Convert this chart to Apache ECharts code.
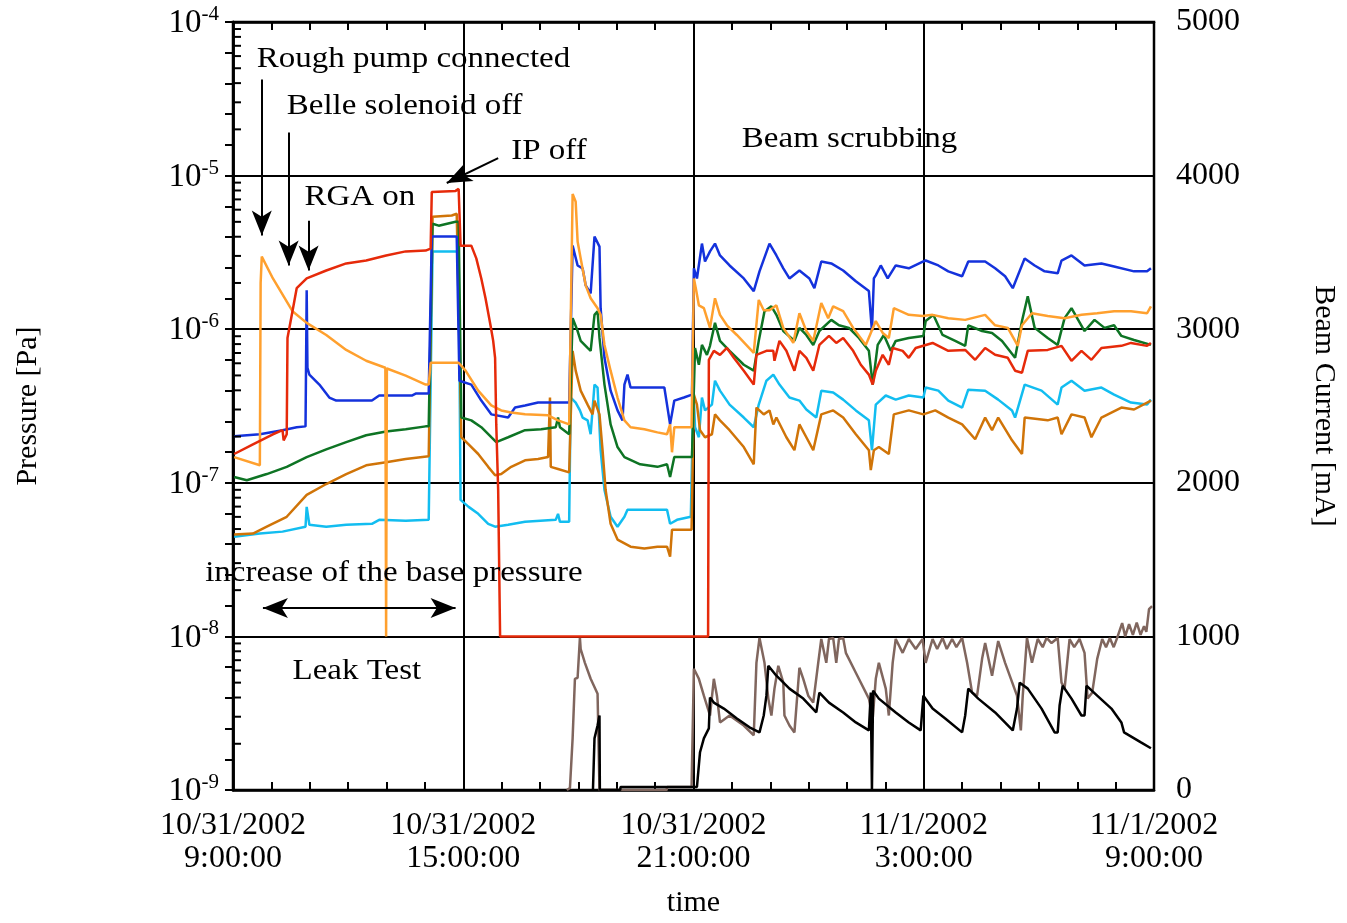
<!DOCTYPE html>
<html><head><meta charset="utf-8">
<script src="https://cdn.jsdelivr.net/npm/echarts/dist/echarts.min.js"></script>
<style>html,body{margin:0;padding:0;background:#fff}#c{width:1347px;height:923px}</style>
</head><body><div id="c"></div>
<script>
const FONT = '"Liberation Serif", "Times New Roman", serif';
const xTickLabels = ['10/31/2002\n9:00:00','10/31/2002\n15:00:00','10/31/2002\n21:00:00','11/1/2002\n3:00:00','11/1/2002\n9:00:00'];
const rightTickLabels = ['0','1000','2000','3000','4000','5000'];
const logMantissas = [2,3,4,5,6,7,8,9];
const logDecades = [-9,-8,-7,-6,-5];

// time in hours after 10/31/2002 9:00:00, pressure in Pa
const blue = [[0.03,2.01e-7],[0.70,2.07e-7],[1.29,2.20e-7],[1.66,2.30e-7],[1.89,2.33e-7],[1.92,1.79e-6],[1.94,5.61e-7],[1.99,5.06e-7],[2.25,4.36e-7],[2.51,3.59e-7],[2.69,3.43e-7],[3.62,3.43e-7],[3.81,3.70e-7],[4.66,3.70e-7],[4.76,3.81e-7],[5.10,3.81e-7],[5.18,4.01e-6],[5.83,4.01e-6],[5.90,4.62e-7],[6.21,4.36e-7],[6.47,3.43e-7],[6.73,2.79e-7],[7.17,2.66e-7],[7.35,3.09e-7],[7.61,3.19e-7],[7.95,3.33e-7],[8.76,3.33e-7],[8.85,3.50e-6],[8.98,2.60e-6],[9.11,2.49e-6],[9.19,1.93e-6],[9.32,1.71e-6],[9.42,4.01e-6],[9.55,3.45e-6],[9.58,1.37e-6],[9.68,6.51e-7],[9.84,3.98e-7],[10.02,2.96e-7],[10.15,2.55e-7],[10.20,4.36e-7],[10.28,5.06e-7],[10.36,4.17e-7],[11.24,4.17e-7],[11.31,3.23e-7],[11.39,2.40e-7],[11.50,3.43e-7],[11.75,3.59e-7],[11.96,3.75e-7],[12.01,2.49e-6],[12.09,2.14e-6],[12.22,3.61e-6],[12.30,2.76e-6],[12.43,3.21e-6],[12.56,3.61e-6],[12.69,3.02e-6],[12.94,2.60e-6],[13.31,2.14e-6],[13.57,1.77e-6],[13.72,2.38e-6],[13.98,3.61e-6],[14.16,3.02e-6],[14.34,2.49e-6],[14.50,2.14e-6],[14.76,2.41e-6],[15.02,2.14e-6],[15.15,1.85e-6],[15.33,2.76e-6],[15.59,2.68e-6],[15.90,2.41e-6],[16.23,2.05e-6],[16.57,1.77e-6],[16.62,1.77e-6],[16.65,9.73e-7],[16.70,2.14e-6],[16.75,2.24e-6],[16.88,2.60e-6],[17.06,2.14e-6],[17.27,2.60e-6],[17.61,2.49e-6],[17.99,2.76e-6],[18.05,2.80e-6],[18.38,2.60e-6],[18.64,2.38e-6],[19.00,2.21e-6],[19.16,2.76e-6],[19.60,2.76e-6],[19.86,2.49e-6],[20.12,2.21e-6],[20.32,1.85e-6],[20.63,2.89e-6],[20.89,2.60e-6],[21.15,2.38e-6],[21.49,2.31e-6],[21.59,2.80e-6],[21.85,3.02e-6],[22.19,2.60e-6],[22.63,2.68e-6],[22.96,2.56e-6],[23.48,2.38e-6],[23.82,2.38e-6],[23.92,2.49e-6]];

const orange = [[0.03,1.47e-7],[0.70,1.30e-7],[0.72,2.0e-6],[0.75,2.97e-6],[1.04,2.14e-6],[1.55,1.31e-6],[1.92,1.10e-6],[2.43,9.17e-7],[2.95,7.33e-7],[3.47,6.23e-7],[3.97,5.61e-7],[3.99,1.0e-8],[4.01,5.55e-7],[4.50,4.98e-7],[5.02,4.36e-7],[5.10,4.36e-7],[5.15,6.04e-7],[5.88,6.04e-7],[5.95,5.78e-7],[6.06,5.37e-7],[6.39,3.98e-7],[6.73,3.19e-7],[6.99,2.96e-7],[7.25,2.87e-7],[7.61,2.79e-7],[8.21,2.75e-7],[8.47,2.55e-7],[8.76,2.40e-7],[8.85,7.60e-6],[8.93,6.75e-6],[8.98,3.72e-6],[9.06,2.89e-6],[9.19,1.93e-6],[9.32,1.59e-6],[9.50,1.37e-6],[9.58,1.24e-6],[9.68,7.90e-7],[9.84,5.37e-7],[10.02,3.59e-7],[10.20,2.55e-7],[10.36,2.30e-7],[10.72,2.23e-7],[11.06,2.13e-7],[11.31,2.07e-7],[11.39,2.40e-7],[11.44,1.58e-7],[11.50,2.30e-7],[11.95,2.30e-7],[12.01,2.14e-6],[12.06,1.85e-6],[12.14,1.43e-6],[12.27,1.37e-6],[12.43,1.02e-6],[12.56,1.59e-6],[12.69,1.24e-6],[12.87,1.06e-6],[13.13,9.17e-7],[13.57,7.02e-7],[13.70,1.55e-6],[13.83,1.33e-6],[13.98,1.33e-6],[14.16,1.43e-6],[14.34,1.02e-6],[14.60,8.14e-7],[14.76,1.27e-6],[14.94,9.73e-7],[15.12,8.39e-7],[15.33,1.48e-6],[15.51,1.18e-6],[15.64,1.41e-6],[15.90,1.31e-6],[16.16,1.02e-6],[16.49,7.90e-7],[16.62,9.45e-7],[16.75,1.13e-6],[16.93,9.45e-7],[17.09,8.77e-7],[17.22,1.37e-6],[17.61,1.24e-6],[17.97,1.22e-6],[18.23,1.24e-6],[18.64,1.18e-6],[19.08,1.15e-6],[19.60,1.24e-6],[19.86,1.06e-6],[20.19,1.02e-6],[20.38,8.39e-7],[20.45,7.79e-7],[20.56,1.06e-6],[20.82,1.27e-6],[21.23,1.22e-6],[21.67,1.18e-6],[22.11,1.24e-6],[22.52,1.27e-6],[22.96,1.31e-6],[23.40,1.31e-6],[23.82,1.27e-6],[23.92,1.41e-6]];

const red = [[0.03,1.54e-7],[0.52,1.78e-7],[1.04,2.07e-7],[1.29,2.20e-7],[1.32,1.89e-7],[1.40,2.07e-7],[1.42,8.77e-7],[1.55,1.31e-6],[1.66,1.85e-6],[1.92,2.14e-6],[2.43,2.41e-6],[2.95,2.68e-6],[3.47,2.80e-6],[3.99,3.02e-6],[4.50,3.21e-6],[5.02,3.25e-6],[5.15,3.35e-6],[5.18,7.83e-6],[5.80,7.95e-6],[5.88,8.19e-6],[5.93,3.50e-6],[6.21,3.50e-6],[6.34,2.89e-6],[6.47,2.14e-6],[6.58,1.59e-6],[6.71,1.06e-6],[6.78,8.39e-7],[6.83,6.51e-7],[6.86,2.40e-7],[6.91,8.98e-8],[6.96,1.0e-8],[12.38,1.0e-8],[12.40,6.32e-7],[12.53,7.23e-7],[12.69,6.81e-7],[12.87,7.55e-7],[13.05,6.51e-7],[13.31,5.37e-7],[13.57,4.36e-7],[13.64,6.81e-7],[13.90,7.23e-7],[14.08,7.23e-7],[14.11,6.23e-7],[14.24,8.39e-7],[14.42,7.23e-7],[14.63,5.37e-7],[14.76,7.23e-7],[14.94,6.51e-7],[15.12,5.37e-7],[15.28,7.90e-7],[15.53,9.04e-7],[15.72,8.14e-7],[15.90,8.77e-7],[16.16,7.23e-7],[16.36,5.87e-7],[16.57,5.06e-7],[16.67,4.36e-7],[16.75,5.37e-7],[16.93,6.81e-7],[17.09,5.87e-7],[17.19,7.55e-7],[17.45,7.23e-7],[17.61,6.51e-7],[17.79,7.55e-7],[18.23,8.14e-7],[18.64,7.23e-7],[19.08,7.33e-7],[19.34,6.32e-7],[19.60,7.55e-7],[19.86,6.81e-7],[20.19,6.51e-7],[20.38,5.37e-7],[20.56,5.21e-7],[20.71,7.23e-7],[21.23,7.33e-7],[21.59,7.79e-7],[21.85,6.23e-7],[22.11,7.23e-7],[22.37,6.32e-7],[22.63,7.55e-7],[23.15,7.79e-7],[23.40,8.14e-7],[23.82,7.79e-7],[23.92,8.14e-7]];

const green = [[0.03,1.09e-7],[0.36,1.04e-7],[0.88,1.14e-7],[1.40,1.27e-7],[1.92,1.47e-7],[2.43,1.65e-7],[2.95,1.84e-7],[3.47,2.04e-7],[3.99,2.16e-7],[4.50,2.23e-7],[5.02,2.33e-7],[5.10,2.33e-7],[5.20,4.86e-6],[5.36,4.72e-6],[5.80,5.01e-6],[5.88,5.01e-6],[5.95,2.66e-7],[6.21,2.55e-7],[6.47,2.30e-7],[6.73,1.98e-7],[6.86,1.84e-7],[7.17,1.98e-7],[7.61,2.20e-7],[8.03,2.23e-7],[8.41,2.30e-7],[8.47,2.66e-7],[8.52,2.30e-7],[8.76,2.07e-7],[8.85,1.18e-6],[8.98,9.73e-7],[9.06,8.39e-7],[9.24,7.55e-7],[9.32,7.23e-7],[9.42,1.24e-6],[9.50,1.31e-6],[9.55,8.77e-7],[9.68,4.36e-7],[9.84,2.40e-7],[10.02,1.71e-7],[10.20,1.47e-7],[10.61,1.32e-7],[11.06,1.27e-7],[11.31,1.32e-7],[11.39,1.09e-7],[11.50,1.47e-7],[11.96,1.47e-7],[12.04,7.55e-7],[12.14,5.87e-7],[12.22,7.90e-7],[12.35,6.81e-7],[12.43,7.79e-7],[12.56,1.10e-6],[12.69,8.39e-7],[12.94,7.23e-7],[13.31,5.87e-7],[13.57,5.37e-7],[13.70,8.39e-7],[13.85,1.31e-6],[14.03,1.41e-6],[14.16,1.24e-6],[14.34,9.73e-7],[14.63,8.39e-7],[14.76,1.02e-6],[14.94,9.17e-7],[15.12,7.90e-7],[15.28,9.73e-7],[15.59,1.15e-6],[15.79,1.06e-6],[16.05,1.02e-6],[16.31,8.77e-7],[16.57,7.23e-7],[16.67,4.36e-7],[16.80,7.90e-7],[16.96,9.17e-7],[17.14,7.23e-7],[17.27,8.39e-7],[17.61,8.77e-7],[17.99,9.04e-7],[18.05,1.13e-6],[18.25,1.24e-6],[18.49,9.17e-7],[18.82,8.39e-7],[19.08,7.79e-7],[19.16,1.06e-6],[19.52,9.73e-7],[19.78,9.45e-7],[20.04,8.39e-7],[20.38,6.51e-7],[20.56,1.13e-6],[20.71,1.64e-6],[20.89,1.02e-6],[21.23,8.77e-7],[21.49,7.90e-7],[21.67,1.18e-6],[21.85,1.37e-6],[22.19,9.73e-7],[22.45,1.15e-6],[22.71,1.02e-6],[22.96,1.06e-6],[23.15,9.04e-7],[23.48,8.51e-7],[23.92,7.90e-7]];

const cyan = [[0.03,4.46e-8],[0.70,4.67e-8],[1.29,4.81e-8],[1.89,5.18e-8],[1.92,6.97e-8],[1.99,5.33e-8],[2.43,5.18e-8],[2.95,5.33e-8],[3.62,5.41e-8],[3.81,5.74e-8],[4.50,5.66e-8],[5.10,5.74e-8],[5.20,3.21e-6],[5.88,3.21e-6],[5.93,7.74e-8],[6.14,6.97e-8],[6.39,6.28e-8],[6.65,5.41e-8],[6.83,5.18e-8],[7.17,5.33e-8],[7.61,5.57e-8],[8.41,5.74e-8],[8.47,6.28e-8],[8.52,5.57e-8],[8.76,5.57e-8],[8.80,3.59e-7],[8.93,3.33e-7],[9.04,2.96e-7],[9.11,2.66e-7],[9.24,2.55e-7],[9.32,2.07e-7],[9.42,4.36e-7],[9.50,4.17e-7],[9.58,1.63e-7],[9.68,8.98e-8],[9.84,6.01e-8],[10.02,5.18e-8],[10.20,6.01e-8],[10.28,6.67e-8],[11.31,6.67e-8],[11.39,5.41e-8],[11.57,5.74e-8],[11.93,6.01e-8],[12.00,3.98e-7],[12.04,2.30e-7],[12.14,1.98e-7],[12.22,3.59e-7],[12.30,2.96e-7],[12.48,3.23e-7],[12.56,4.62e-7],[12.69,3.98e-7],[12.94,3.23e-7],[13.31,2.66e-7],[13.57,2.30e-7],[13.70,3.23e-7],[13.90,4.62e-7],[14.08,5.06e-7],[14.24,4.36e-7],[14.50,3.59e-7],[14.76,3.43e-7],[14.94,3.00e-7],[15.20,2.66e-7],[15.33,3.98e-7],[15.64,3.87e-7],[15.90,3.48e-7],[16.23,2.96e-7],[16.57,2.55e-7],[16.65,1.63e-7],[16.75,3.23e-7],[17.01,3.70e-7],[17.27,3.48e-7],[17.61,3.70e-7],[17.99,3.59e-7],[18.05,4.17e-7],[18.38,3.98e-7],[18.64,3.43e-7],[19.00,3.09e-7],[19.16,4.04e-7],[19.60,3.98e-7],[19.94,3.48e-7],[20.30,2.96e-7],[20.38,2.66e-7],[20.63,4.36e-7],[21.07,3.98e-7],[21.49,3.23e-7],[21.59,4.17e-7],[21.85,4.62e-7],[22.19,3.98e-7],[22.63,4.17e-7],[22.96,3.75e-7],[23.40,3.33e-7],[23.82,3.23e-7],[23.92,3.48e-7]];

const darkOrange = [[0.03,4.60e-8],[0.52,4.67e-8],[0.88,5.18e-8],[1.40,6.01e-8],[1.92,8.34e-8],[2.43,9.82e-8],[2.95,1.14e-7],[3.47,1.30e-7],[3.99,1.36e-7],[4.50,1.43e-7],[5.10,1.49e-7],[5.20,5.40e-6],[5.70,5.50e-6],[5.83,5.64e-6],[5.88,5.64e-6],[5.95,1.98e-7],[6.14,1.78e-7],[6.39,1.54e-7],[6.65,1.27e-7],[6.83,1.12e-7],[6.99,1.14e-7],[7.25,1.27e-7],[7.61,1.40e-7],[7.95,1.43e-7],[8.21,1.47e-7],[8.26,3.59e-7],[8.28,1.27e-7],[8.47,1.23e-7],[8.76,1.17e-7],[8.85,7.23e-7],[8.93,5.37e-7],[9.06,3.98e-7],[9.24,3.23e-7],[9.37,2.79e-7],[9.42,3.43e-7],[9.55,2.79e-7],[9.63,1.63e-7],[9.71,8.98e-8],[9.84,5.41e-8],[10.02,4.27e-8],[10.36,3.84e-8],[10.72,3.73e-8],[11.06,3.84e-8],[11.31,3.84e-8],[11.39,3.31e-8],[11.44,4.95e-8],[11.95,4.95e-8],[12.01,3.75e-7],[12.09,3.23e-7],[12.17,2.20e-7],[12.30,1.98e-7],[12.48,2.07e-7],[12.56,2.79e-7],[12.69,2.55e-7],[12.94,2.20e-7],[13.31,1.71e-7],[13.57,1.32e-7],[13.64,3.09e-7],[13.83,2.79e-7],[13.98,2.96e-7],[14.08,2.40e-7],[14.16,2.66e-7],[14.42,1.98e-7],[14.63,1.63e-7],[14.76,2.40e-7],[14.94,1.98e-7],[15.12,1.63e-7],[15.33,2.79e-7],[15.64,2.96e-7],[15.90,2.66e-7],[16.23,2.07e-7],[16.57,1.63e-7],[16.62,1.21e-7],[16.70,1.63e-7],[16.83,1.71e-7],[17.09,1.54e-7],[17.22,2.79e-7],[17.61,2.96e-7],[17.99,2.79e-7],[18.30,2.96e-7],[18.64,2.66e-7],[19.00,2.40e-7],[19.34,1.92e-7],[19.60,2.66e-7],[19.78,2.20e-7],[19.94,2.66e-7],[20.30,1.89e-7],[20.56,1.54e-7],[20.63,2.66e-7],[21.23,2.55e-7],[21.49,2.66e-7],[21.59,2.07e-7],[21.85,2.79e-7],[22.19,2.66e-7],[22.37,1.98e-7],[22.63,2.66e-7],[23.15,3.09e-7],[23.48,3.00e-7],[23.92,3.43e-7]];

// beam currents in mA (right axis)
const lerCurrent = [[8.70,0],[8.78,13],[8.85,336],[8.91,724],[8.98,731],[9.04,990],[9.06,918],[9.17,828],[9.32,724],[9.50,627],[9.55,0],[11.30,0],[11.31,20],[11.95,20],[12.01,789],[12.14,724],[12.27,614],[12.43,485],[12.53,724],[12.61,614],[12.69,440],[12.94,485],[13.31,420],[13.57,356],[13.64,828],[13.72,990],[13.85,828],[13.95,595],[14.03,485],[14.11,660],[14.21,809],[14.34,699],[14.37,485],[14.50,420],[14.63,375],[14.76,796],[14.86,724],[14.99,614],[15.12,569],[15.25,828],[15.33,983],[15.46,828],[15.53,983],[15.64,990],[15.72,828],[15.79,983],[15.90,990],[15.97,893],[16.23,763],[16.57,595],[16.67,466],[16.75,724],[16.83,828],[17.01,660],[17.09,485],[17.19,828],[17.27,983],[17.45,893],[17.61,983],[17.79,918],[17.97,983],[18.05,828],[18.23,983],[18.35,918],[18.49,990],[18.60,918],[18.74,983],[18.85,930],[19.00,990],[19.13,828],[19.26,634],[19.39,614],[19.52,854],[19.60,957],[19.78,744],[19.94,970],[20.12,828],[20.43,614],[20.53,388],[20.58,614],[20.69,990],[20.82,828],[20.97,983],[21.10,930],[21.20,990],[21.33,957],[21.49,990],[21.59,699],[21.67,660],[21.80,983],[21.92,930],[22.06,983],[22.19,893],[22.27,595],[22.39,634],[22.52,854],[22.65,983],[22.75,930],[22.85,990],[22.95,930],[23.04,990],[23.17,1087],[23.25,1000],[23.35,1080],[23.45,1010],[23.55,1090],[23.65,1010],[23.74,1067],[23.80,1030],[23.87,1177],[23.95,1197]];

const herCurrent = [[9.38,0],[9.40,13],[9.42,336],[9.50,420],[9.55,485],[9.56,0],[10.09,0],[10.10,20],[12.09,20],[12.17,246],[12.27,336],[12.40,401],[12.43,602],[12.53,569],[12.79,530],[13.13,466],[13.46,408],[13.72,375],[13.83,485],[13.90,614],[13.95,809],[14.16,744],[14.50,660],[14.86,595],[15.20,505],[15.28,634],[15.53,569],[15.90,505],[16.23,440],[16.57,388],[16.62,634],[16.65,0],[16.68,647],[16.83,595],[17.27,505],[17.61,440],[17.92,388],[17.99,614],[18.23,530],[18.56,466],[19.00,375],[19.08,485],[19.16,660],[19.42,595],[19.86,505],[20.32,388],[20.43,530],[20.50,699],[20.71,660],[21.07,530],[21.41,375],[21.49,375],[21.54,550],[21.62,679],[21.85,595],[22.11,485],[22.19,485],[22.24,679],[22.52,614],[22.89,530],[23.15,440],[23.22,375],[23.66,310],[23.92,272]];

// annotations (hour, pressure)
const annoTexts = [
  {text:'Rough pump connected', h:0.62, p:5.76e-5},
  {text:'Belle solenoid off', h:1.40, p:2.82e-5},
  {text:'RGA on', h:1.86, p:7.27e-6},
  {text:'IP off', h:7.25, p:1.44e-5},
  {text:'Beam scrubbing', h:13.26, p:1.72e-5},
  {text:'increase of the base pressure', h:-0.725, p:2.57e-8},
  {text:'Leak Test', h:1.55, p:5.97e-9}
];
const arrowLines = [
  [[0.75,4.22e-5],[0.75,4.07e-6]],
  [[1.45,1.91e-5],[1.45,2.60e-6]],
  [[1.97,5.08e-6],[1.97,2.41e-6]],
  [[6.91,1.30e-5],[5.57,8.95e-6]]
];
const doubleArrow = [[0.78,1.53e-8],[5.80,1.53e-8]];

const logMinorTicks = [];
logDecades.forEach(e => logMantissas.forEach(m => logMinorTicks.push([0, m * Math.pow(10, e)])));

function lineSeries(name, data, color, yIdx) {
  return {name, type:'line', data, xAxisIndex:0, yAxisIndex:yIdx, showSymbol:false, symbol:'none',
    lineStyle:{color, width:2.5}, itemStyle:{color}, animation:false, z:3, emphasis:{disabled:true}};
}
const axisBlack = {lineStyle:{color:'#000', width:2.5}};
const tickStyle = {color:'#000', width:2};

const option = {
  backgroundColor:'#fff',
  animation:false,
  grid:{left:233, right:187, top:22, bottom:128, show:true, borderColor:'#000', borderWidth:2.5, backgroundColor:'#fff'},
  xAxis:[
    {type:'value', min:0, max:24, interval:6, position:'bottom',
     axisLine:axisBlack, axisTick:{show:true, inside:true, length:8, lineStyle:tickStyle},
     minorTick:{show:true, splitNumber:6, length:8, lineStyle:tickStyle},
     splitLine:{show:true, lineStyle:{color:'#000', width:2}},
     axisLabel:{formatter:v => xTickLabels[Math.round(v/6)], fontFamily:FONT, fontSize:32, color:'#000', lineHeight:33, margin:19},
     name:'time', nameLocation:'middle', nameGap:98, nameTextStyle:{fontFamily:FONT, fontSize:30, color:'#000'}},
    {type:'value', min:0, max:24, interval:6, position:'top',
     axisLine:axisBlack, axisTick:{show:true, inside:true, length:8, lineStyle:tickStyle},
     minorTick:{show:true, splitNumber:6, length:8, lineStyle:tickStyle},
     splitLine:{show:false}, axisLabel:{show:false}}
  ],
  yAxis:[
    {type:'log', logBase:10, min:1e-9, max:1e-4, splitNumber:5, position:'left',
     axisLine:axisBlack, axisTick:{show:false},
     splitLine:{show:true, lineStyle:{color:'#000', width:2}},
     axisLabel:{margin:14, formatter:v => '{b|10}{s|' + Math.round(Math.log10(v)) + '}',
       rich:{b:{fontFamily:FONT, fontSize:33, color:'#000', verticalAlign:'bottom', lineHeight:36},
             s:{fontFamily:FONT, fontSize:21, color:'#000', verticalAlign:'top', lineHeight:21}}},
     name:'Pressure [Pa]', nameLocation:'middle', nameRotate:90, nameGap:190,
     nameTextStyle:{fontFamily:FONT, fontSize:30, color:'#000'}},
    {type:'value', min:0, max:5000, interval:1000, position:'right',
     axisLine:axisBlack, axisTick:{show:true, inside:true, length:8, lineStyle:tickStyle},
     minorTick:{show:true, splitNumber:5, length:8, lineStyle:tickStyle},
     splitLine:{show:false},
     axisLabel:{margin:22, formatter:v => rightTickLabels[Math.round(v/1000)], fontFamily:FONT, fontSize:32, color:'#000'},
     name:'Beam Current [mA]', nameLocation:'middle', nameRotate:-90, nameGap:155,
     nameTextStyle:{fontFamily:FONT, fontSize:30, color:'#000'}}
  ],
  series:[
    lineSeries('LER current', lerCurrent, '#80665e', 1),
    lineSeries('HER current', herCurrent, '#000000', 1),
    lineSeries('P1', cyan, '#12bdf0', 0),
    lineSeries('P2', darkOrange, '#d07408', 0),
    lineSeries('P3', green, '#0e7424', 0),
    lineSeries('P4', blue, '#1432dc', 0),
    lineSeries('P5', orange, '#ffa02e', 0),
    lineSeries('P6', red, '#e62a0a', 0),
    {type:'custom', name:'logMinorTicks', xAxisIndex:0, yAxisIndex:0, data:logMinorTicks, silent:true, z:5,
     renderItem:(params, api) => {
       const p = api.coord([api.value(0), api.value(1)]);
       return {type:'line', shape:{x1:p[0], y1:p[1], x2:p[0]+8, y2:p[1]}, style:{stroke:'#000', lineWidth:2}};
     }},
    {type:'line', name:'arrows', xAxisIndex:0, yAxisIndex:0, data:[], silent:true, z:6,
     markLine:{silent:true, animation:false, symbol:['none','arrow'], symbolSize:[15,25],
       label:{show:false}, lineStyle:{color:'#000', width:2, type:'solid'}, emphasis:{disabled:true},
       data:[
         ...arrowLines.map(a => [{coord:a[0]}, {coord:a[1]}]),
         [{coord:doubleArrow[0], symbol:'arrow'}, {coord:doubleArrow[1], symbol:'arrow'}]
       ]}}
  ]
};

const chart = echarts.init(document.getElementById('c'), null, {renderer:'canvas'});
chart.setOption(option);
const graphics = annoTexts.map(a => {
  const pt = chart.convertToPixel({xAxisIndex:0, yAxisIndex:0}, [a.h, a.p]);
  return {type:'text', x:pt[0], y:pt[1], scaleX:1.1, z:10, silent:true,
    style:{text:a.text, fontFamily:FONT, fontSize:30, fill:'#000', align:'left', verticalAlign:'middle'}};
});
chart.setOption({graphic:graphics});
</script>
</body></html>
